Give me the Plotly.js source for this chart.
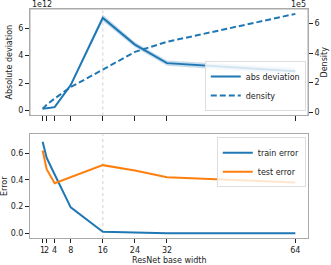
<!DOCTYPE html>
<html><head><meta charset="utf-8">
<script src="https://cdn.plot.ly/plotly-3.0.1.min.js"></script>
<style>body{margin:0;padding:0;background:#fff}#chart{width:331px;height:265px}</style>
</head><body><div id="chart"></div>
<script>
// Data
const widths = [1, 2, 4, 8, 16, 24, 32, 64];
const tickLabels = ["1", "2", "4", "8", "16", "24", "32", "64"];
// absolute deviation (units of 1e12)
const absDev = [0.14, 0.15, 0.24, 1.85, 6.75, 4.8, 3.45, 2.85];
const absDevLow = [0.1, 0.11, 0.18, 1.7, 6.5, 4.6, 3.25, 2.6];
const absDevHigh = [0.18, 0.19, 0.3, 2.0, 7.0, 5.0, 3.65, 3.1];
// density (units of 1e5)
const density = [0.22, 0.5, 0.93, 1.7, 2.88, 4.08, 4.76, 6.65];
// errors
const trainError = [0.685, 0.565, 0.44, 0.195, 0.012, 0.005, 0.002, 0.001];
const testError = [0.62, 0.48, 0.375, 0.42, 0.51, 0.47, 0.42, 0.38];
const markerX = 16;

const blue = '#1f77b4', orange = '#ff7f0e';
const font = {family: 'DejaVu Sans', size: 8, color: '#222'};

const traces = [
  {x: widths, y: absDevLow, xaxis: 'x', yaxis: 'y', mode: 'lines', line: {width: 0, color: 'rgba(0,0,0,0)'}, showlegend: false, hoverinfo: 'skip'},
  {x: widths, y: absDevHigh, xaxis: 'x', yaxis: 'y', mode: 'lines', line: {width: 0, color: 'rgba(0,0,0,0)'}, fill: 'tonexty', fillcolor: 'rgba(31,119,180,0.25)', showlegend: false, hoverinfo: 'skip'},
  {x: widths, y: absDev, xaxis: 'x', yaxis: 'y', mode: 'lines', name: 'abs deviation', line: {color: blue, width: 2}, legend: 'legend'},
  {x: widths, y: density, xaxis: 'x', yaxis: 'y2', mode: 'lines', name: 'density', line: {color: blue, width: 2, dash: '6px,3px'}, legend: 'legend'},
  {x: widths, y: trainError, xaxis: 'x2', yaxis: 'y3', mode: 'lines', name: 'train error', line: {color: blue, width: 2}, legend: 'legend2'},
  {x: widths, y: testError, xaxis: 'x2', yaxis: 'y3', mode: 'lines', name: 'test error', line: {color: orange, width: 2}, legend: 'legend2'}
];

const axCommon = {showgrid: false, zeroline: false, showline: true, linecolor: '#aaa', linewidth: 1, mirror: true,
  ticks: 'outside', ticklen: 4, tickcolor: '#222', tickwidth: 1, tickfont: font, tickangle: 0, automargin: false};

const legendCommon = {bgcolor: 'rgba(255,255,255,0.8)', bordercolor: '#ddd', borderwidth: 1,
  font: {family: 'DejaVu Sans', size: 8, color: '#222'}, tracegroupgap: 0, itemwidth: 30, traceorder: 'normal'};

const layout = {
  width: 331, height: 265,
  margin: {l: 30, r: 23, t: 9, b: 27},
  paper_bgcolor: '#fff', plot_bgcolor: '#fff',
  font: font,
  xaxis: Object.assign({}, axCommon, {domain: [0, 1], anchor: 'y', range: [-2.15, 67.15], tickvals: widths, showticklabels: false, ticklen: 5}),
  yaxis: Object.assign({}, axCommon, {domain: [0.535, 1], anchor: 'x', range: [-0.37, 7.4], tickvals: [0, 2, 4, 6], mirror: false,
    title: {text: 'Absolute deviation', font: font, standoff: 4}}),
  yaxis2: Object.assign({}, axCommon, {overlaying: 'y', side: 'right', anchor: 'x', range: [-0.22, 6.98], tickvals: [0, 2, 4, 6], mirror: false,
    title: {text: 'Density', font: font, standoff: 2}}),
  xaxis2: Object.assign({}, axCommon, {domain: [0, 1], anchor: 'y3', range: [-2.15, 67.15], tickvals: widths, ticktext: tickLabels, ticklen: 4}),
  yaxis3: Object.assign({}, axCommon, {domain: [0, 0.452], anchor: 'x2', range: [-0.034, 0.739], tickvals: [0, 0.2, 0.4, 0.6], ticktext: ['0.0', '0.2', '0.4', '0.6'],
    title: {text: 'Error', font: font, standoff: 4}}),
  legend: Object.assign({}, legendCommon, {x: 0.992, xanchor: 'right', y: 0.555, yanchor: 'bottom'}),
  legend2: Object.assign({}, legendCommon, {x: 0.992, xanchor: 'right', y: 0.44, yanchor: 'top'}),
  shapes: [
    {type: 'line', xref: 'x', yref: 'y domain', x0: markerX, x1: markerX, y0: 0, y1: 1, line: {color: '#d8d8d8', width: 1.2, dash: 'dot'}, layer: 'below'},
    {type: 'line', xref: 'x2', yref: 'y3 domain', x0: markerX, x1: markerX, y0: 0, y1: 1, line: {color: '#d8d8d8', width: 1.2, dash: 'dot'}, layer: 'below'},
    {type: 'rect', xref: 'x domain', yref: 'y domain', x0: 0, x1: 1, y0: 0, y1: 1, line: {color: '#aaa', width: 1}, fillcolor: 'rgba(0,0,0,0)'}
  ],
  annotations: [
    {text: '1e12', xref: 'paper', yref: 'paper', x: 0, y: 1, xanchor: 'left', yanchor: 'bottom', showarrow: false, font: font, yshift: -2},
    {text: '1e5', xref: 'paper', yref: 'paper', x: 1, y: 1, xanchor: 'right', yanchor: 'bottom', showarrow: false, font: font, yshift: -2},
    {text: 'ResNet base width', xref: 'paper', yref: 'paper', x: 0.5, y: 0, xanchor: 'center', yanchor: 'top', showarrow: false, font: font, yshift: -16}
  ]
};

Plotly.newPlot('chart', traces, layout, {displayModeBar: false, staticPlot: true});
</script></body></html>
